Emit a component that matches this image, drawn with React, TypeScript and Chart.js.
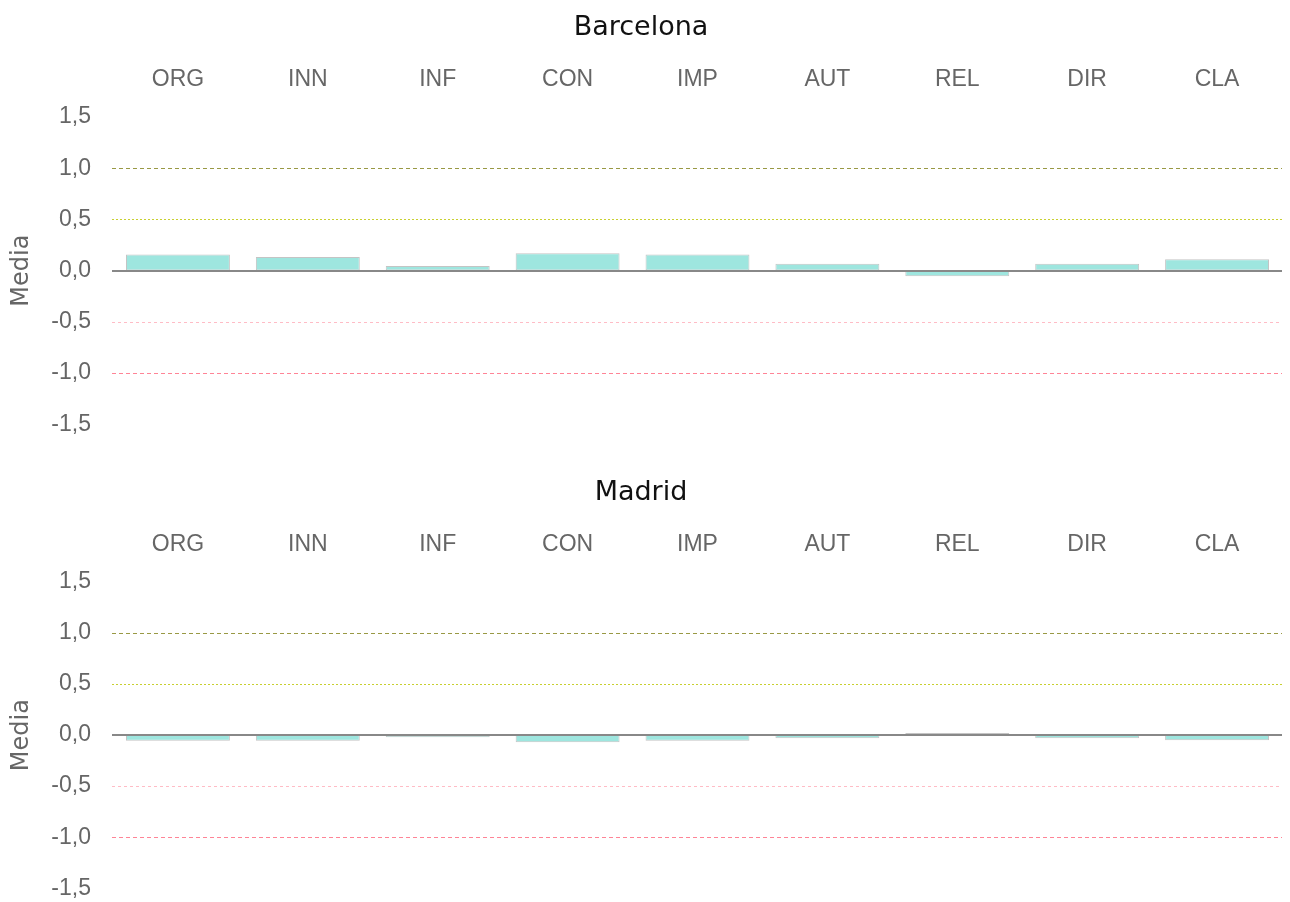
import React, { useEffect, useRef } from "react";
import { Chart, registerables } from "chart.js";

Chart.register(...registerables);

const categories = ["ORG", "INN", "INF", "CON", "IMP", "AUT", "REL", "DIR", "CLA"];
const barcelonaValues = [0.157, 0.134, 0.046, 0.17, 0.157, 0.068, -0.056, 0.068, 0.11];
const madridValues = [-0.055, -0.055, -0.02, -0.07, -0.055, -0.03, 0.02, -0.03, -0.05];
const yMin = -1.5;
const yMax = 1.5;
const yStep = 0.5;
const referenceLevels = [1, 0.5, 0, -0.5, -1];

const levelStyle = (v: number) => {
  if (v === 1) return { color: "#999944", dash: [4, 3], width: 1 };
  if (v === 0.5) return { color: "#c8d030", dash: [2, 2], width: 1 };
  if (v === 0) return { color: "#888888", dash: [], width: 2 };
  if (v === -0.5) return { color: "#ffbcc6", dash: [3, 3], width: 1 };
  return { color: "#ff8496", dash: [4, 3], width: 1 };
};

const refLinesPlugin = {
  id: "refLines",
  afterDatasetsDraw(chart: any) {
    const ys = chart.scales.y;
    const { left, right } = chart.chartArea;
    const ctx = chart.ctx;
    referenceLevels.forEach((v) => {
      const s = levelStyle(v);
      const py = Math.round(ys.getPixelForValue(v)) + (s.width === 1 ? 0.5 : 0);
      ctx.save();
      ctx.strokeStyle = s.color;
      ctx.lineWidth = s.width;
      ctx.setLineDash(s.dash);
      ctx.beginPath();
      ctx.moveTo(left - 1, py);
      ctx.lineTo(right, py);
      ctx.stroke();
      ctx.restore();
    });
  },
};

const TICK_FONT = { family: "'Liberation Sans', Arial, sans-serif", size: 23 };

function Panel({ title, values, top, height }: { title: string; values: number[]; top: number; height: number }) {
  const ref = useRef<HTMLCanvasElement | null>(null);
  useEffect(() => {
    if (!ref.current) return;
    const chart = new Chart(ref.current, {
      type: "bar",
      data: {
        labels: categories,
        datasets: [
          {
            label: title,
            data: values,
            backgroundColor: "#9ee6df",
            borderColor: "#c4c4c4",
            borderWidth: 1,
            borderSkipped: false,
            categoryPercentage: 1,
            barPercentage: 0.8,
          },
        ],
      },
      plugins: [refLinesPlugin],
      options: {
        animation: false,
        responsive: true,
        maintainAspectRatio: false,
        layout: { padding: { left: 0, right: 8, top: 0, bottom: 0 } },
        plugins: {
          legend: { display: false },
          tooltip: { enabled: false },
          title: {
            display: true,
            text: title,
            color: "#111111",
            font: { family: "'DejaVu Sans', sans-serif", size: 27, weight: "normal" },
            padding: { top: 12, bottom: 0 },
          },
        },
        scales: {
          x: {
            position: "top",
            grid: { display: false, drawTicks: false },
            border: { display: false },
            ticks: {
              color: "#666666",
              padding: 24,
              font: TICK_FONT,
            },
            afterFit: (scale: any) => {
              scale.height = 72.6;
            },
          },
          y: {
            min: yMin,
            max: yMax,
            grid: { display: false, drawTicks: false },
            border: { display: false },
            ticks: {
              stepSize: yStep,
              color: "#666666",
              padding: 22,
              font: TICK_FONT,
              callback: (v: any) => Number(v).toFixed(1).replace(".", ","),
            },
            title: {
              display: true,
              text: "Media",
              color: "#666666",
              font: { family: "'DejaVu Sans', sans-serif", size: 24 },
              padding: { top: 7, bottom: 0 },
            },
            afterFit: (scale: any) => {
              scale.width = 113;
            },
          },
        },
      },
    } as any);
    return () => chart.destroy();
  }, [title, values]);
  return (
    <div style={{ position: "absolute", left: 0, top, width: 1290, height }}>
      <canvas ref={ref} />
    </div>
  );
}

export default function App() {
  return (
    <div
      style={{
        position: "absolute",
        left: 0,
        top: 0,
        width: 1290,
        height: 902,
        overflow: "hidden",
        background: "#fff",
      }}
    >
      <Panel title="Barcelona" values={barcelonaValues} top={0} height={460} />
      <Panel title="Madrid" values={madridValues} top={465} height={459} />
    </div>
  );
}
